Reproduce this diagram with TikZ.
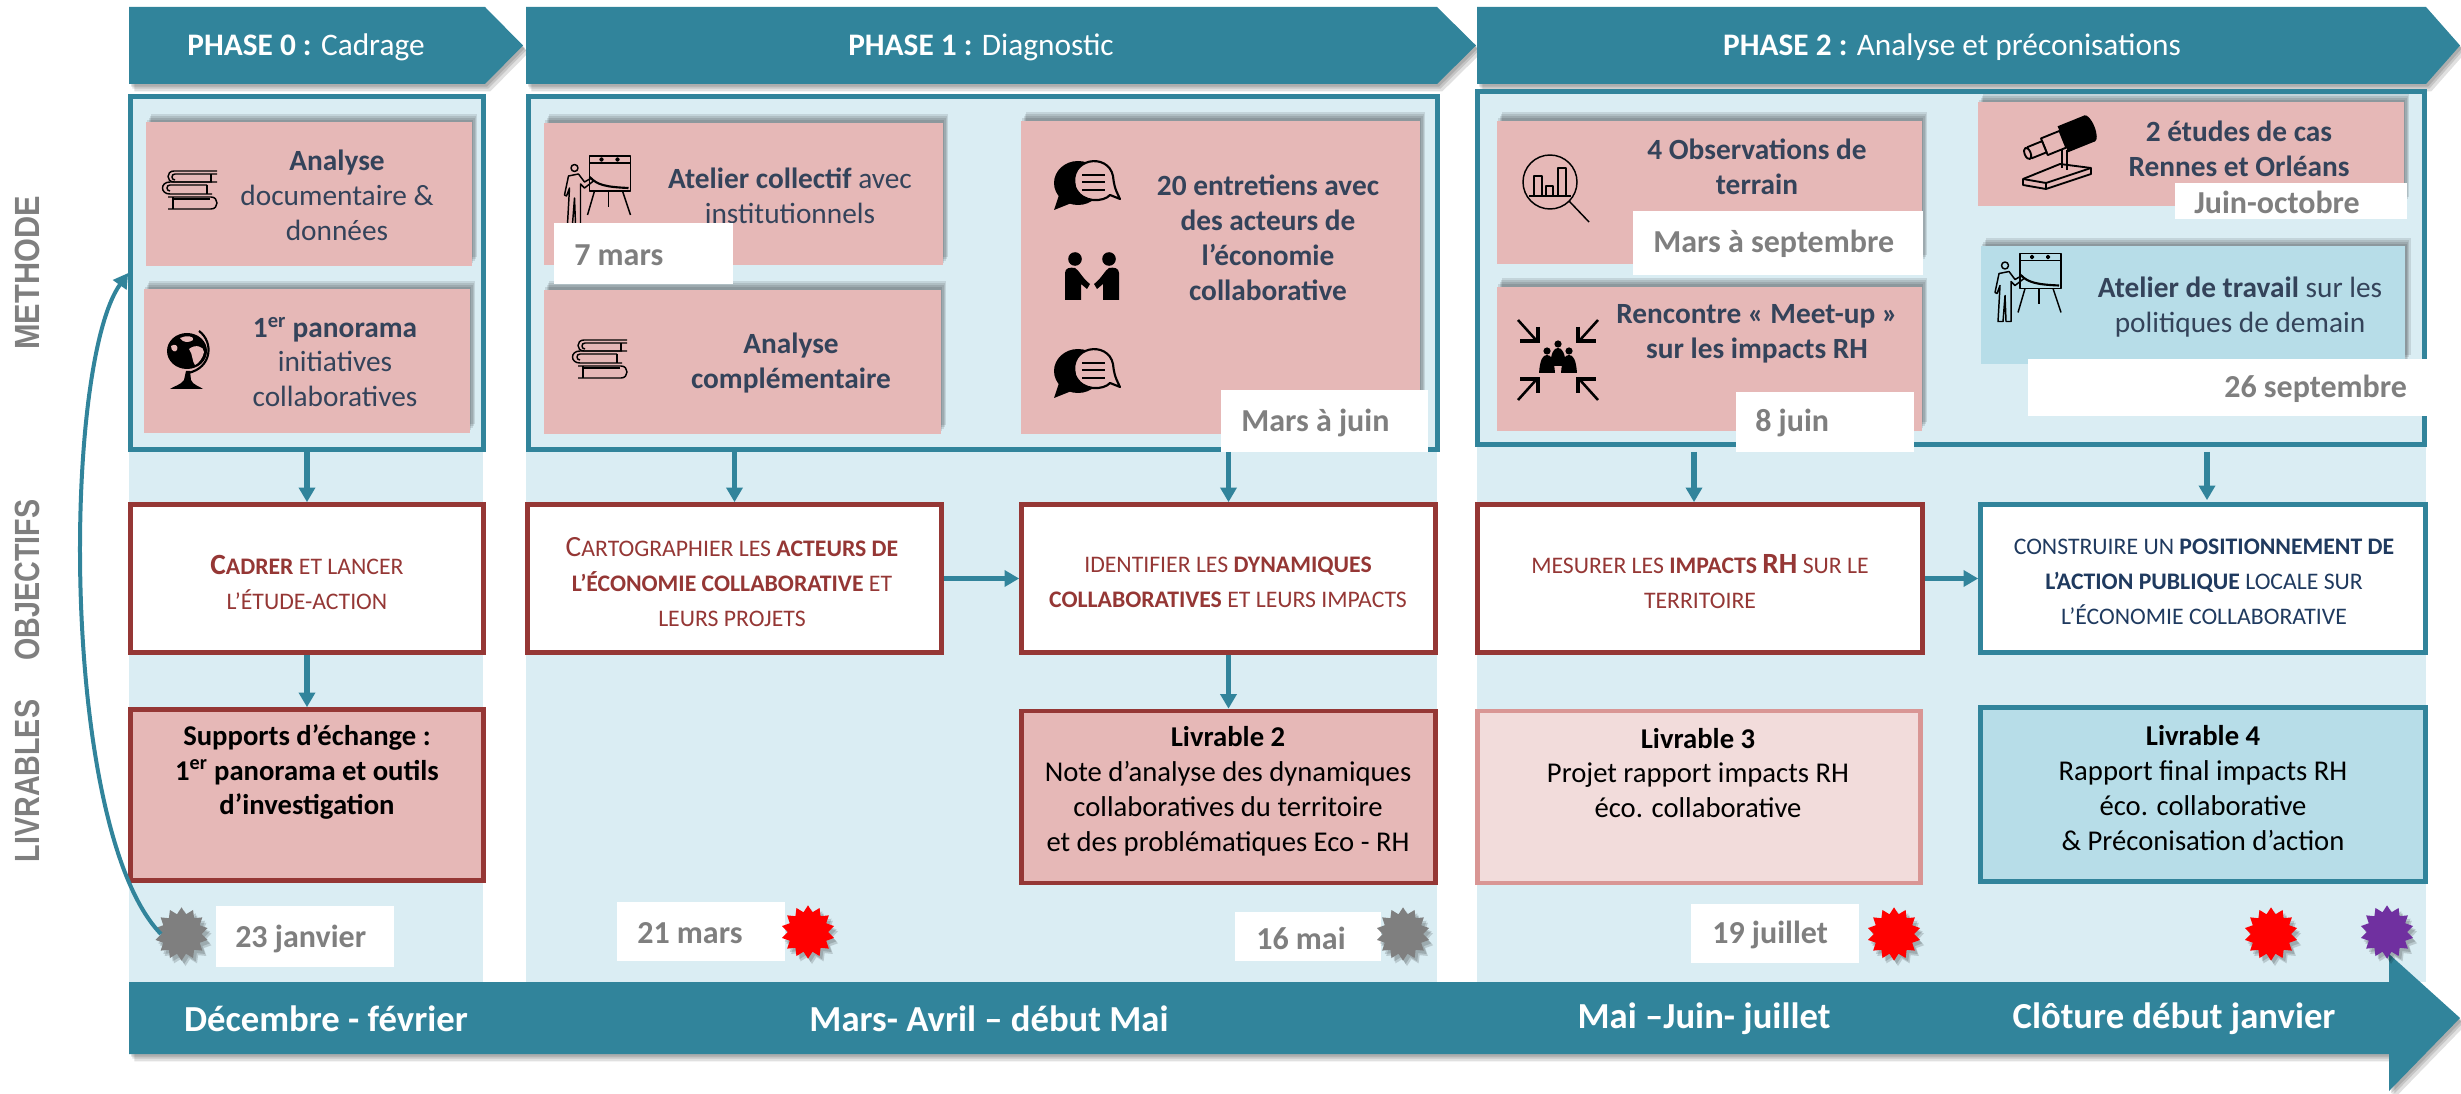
\documentclass[tikz,border=0pt]{standalone}
\usepackage{fontspec}
\usepackage{graphicx}
\setmainfont{Carlito}
\newfontfamily\sidefont{Liberation Sans}
\usetikzlibrary{shapes.geometric, arrows.meta, positioning, calc, shadows}

\definecolor{teal}{HTML}{31849B}
\definecolor{colbg}{HTML}{DAEDF3}
\definecolor{rouge}{HTML}{953735}
\definecolor{rose}{HTML}{E6B8B7}
\definecolor{paleblue}{HTML}{B7DDE8}
\definecolor{palerose}{HTML}{F2DCDB}
\definecolor{midrose}{HTML}{D99694}
\definecolor{slate}{HTML}{34435A}
\definecolor{navy}{HTML}{1F3A5F}
\definecolor{greytxt}{HTML}{7F7F7F}
\definecolor{violet}{HTML}{7030A0}

% initial capital in the small capital lines
\newcommand{\initcap}[1]{{\fontsize{22}{26.2}\selectfont #1}}

\tikzset{
	wh/.style 2 args={minimum width={#1*0.75pt}, minimum height={#2*0.75pt}, inner sep=0pt},
	softup/.style={general shadow={fill=black,opacity=.1,shadow xshift=1pt,shadow yshift=2pt},general shadow={fill=black,opacity=.1,shadow xshift=2pt,shadow yshift=3.5pt},general shadow={fill=black,opacity=.1,shadow xshift=3pt,shadow yshift=5pt},general shadow={fill=black,opacity=.1,shadow xshift=4pt,shadow yshift=6.5pt}},
	softdown/.style={general shadow={fill=black,opacity=.12,shadow xshift=1.5pt,shadow yshift=-2pt},general shadow={fill=black,opacity=.12,shadow xshift=2.5pt,shadow yshift=-3.5pt},general shadow={fill=black,opacity=.12,shadow xshift=4pt,shadow yshift=-5.5pt}},
	phasebar/.style={fill=teal, softdown},
	framebox/.style={draw=teal, line width=3.5pt, fill=colbg},
	pinkbox/.style={fill=rose, softup},
	bluebox/.style={fill=paleblue, softup},
	datebox/.style={fill=white},
	objbox/.style={draw=rouge, line width=3.5pt, fill=white},
	objteal/.style={draw=teal, line width=3.5pt, fill=white},
	livbox/.style={draw=rouge, line width=3.5pt, fill=rose},
	livpale/.style={draw=midrose, line width=3.5pt, fill=palerose},
	livteal/.style={draw=teal, line width=3.5pt, fill=paleblue},
	boxtxt/.style={text=slate, align=center, inner sep=0pt, font=\fontsize{22}{26.2}\selectfont},
	objtxt/.style={text=rouge, align=center, inner sep=0pt, font=\fontsize{17.8}{26.2}\selectfont},
	livtxt/.style={text=black, align=center, inner sep=0pt, font=\fontsize{21.5}{26.2}\selectfont},
	datetxt/.style={text=greytxt, anchor=west, inner sep=0pt, font=\fontsize{24}{28}\selectfont\bfseries},
	phasetxt/.style={text=white, inner sep=0pt, font=\fontsize{23.5}{28}\selectfont},
	timetxt/.style={text=white, inner sep=0pt, font=\fontsize{27.5}{32}\selectfont\bfseries},
	sidetxt/.style={text=greytxt, rotate=90, inner sep=0pt, font=\fontsize{21.5}{28}\selectfont\sidefont\bfseries},
	jalon/.style={star, star points=14, star point ratio=1.32, minimum size=40pt, inner sep=0pt, fill=#1, general shadow={fill=black,opacity=.15,shadow xshift=2pt,shadow yshift=-2.5pt},general shadow={fill=black,opacity=.15,shadow xshift=3pt,shadow yshift=-4pt}},
	link/.style={draw=teal, line width=4pt, -{Triangle[width=12pt,length=11pt]}},
	icon/.style={draw=black, line width=1.1pt, line join=round},
	books/.pic={
		\draw[icon] (28,-19) -- (-15,-19) .. controls (-23,-19) and (-23,-8) .. (-15,-8) -- (28,-8);
		\draw[icon] (28,-16) -- (-14,-16) .. controls (-18,-16) and (-18,-10) .. (-14,-10);
		\draw[icon] (22,-8) -- (22,-16);
		\draw[icon] (23,-8) -- (-19,-8) .. controls (-29,-8) and (-29,4) .. (-19,4) -- (23,4);
		\draw[icon] (18,-5) -- (-19,-5) .. controls (-23,-5) and (-23,1) .. (-19,1);
		\draw[icon] (18,4) -- (18,-5);
		\draw[icon] (-21,7) -- (22,7) .. controls (30,7) and (30,19) .. (22,19) -- (-21,19);
		\draw[icon] (-16,7) -- (-16,19);
		\draw[icon] (-16,9) -- (21,9);
	},
	globe/.pic={
		\fill[black] (-2,-9) ellipse (20 and 18);
		\fill[rose] (-9,-22) .. controls (-3,-25) and (6,-24) .. (4,-20) .. controls (0,-17) and (-6,-17) .. cycle;
		\fill[rose] (0,-11) .. controls (6,-16) and (15,-14) .. (15,-8) .. controls (14,-2) and (9,4) .. (6,5) .. controls (3,2) and (4,-6) .. cycle;
		\fill[rose] (-18,-14) .. controls (-14,-17) and (-10,-14) .. (-12,-10) .. controls (-14,-7) and (-18,-9) .. cycle;
		\draw[black, line width=1.6pt] (10,-29) .. controls (25,-18) and (23,8) .. (-1,13);
		\fill[black] (-3,11) -- (1,11) -- (2,20) .. controls (4,25) and (10,26) .. (14,29) -- (-19,29) .. controls (-15,26) and (-8,25) .. (-5,20) -- cycle;
	},
	presenter/.pic={
		\draw[icon] (-8,-34) rectangle (33,1);
		\draw[icon] (-8,-27) -- (33,-27);
		\draw[icon] (4,-30.5) circle (1.5);
		\draw[icon] (20,-30.5) circle (1.5);
		\draw[icon, line width=1.6pt] (-8,-13) .. controls (0,-5) and (8,-3) .. (31,-2);
		\draw[icon] (-3,1) -- (-10,25);
		\draw[icon] (25,1) -- (33,25);
		\draw[icon] (11,1) -- (11,17);
		\draw[icon] (-23,-22) circle (3.5);
		\draw[icon] (-19,-16) -- (-13,-8) -- (-6,-12) -- (-4,-9) -- (-13,-2) -- (-17,-6) -- (-17,34) -- (-22,34) -- (-23,8) -- (-25,34) -- (-30,34) -- (-28,-2) -- (-31,6) -- (-33,5) -- (-29,-14) -- cycle;
	},
	chat/.pic={
		\fill[black] (-10,-1) ellipse (24 and 22);
		\fill[black] (-28,8) -- (-34,26) -- (-14,18) -- cycle;
		\filldraw[icon, fill=rose, line width=1.6pt] (32,15) -- (22,11) .. controls (16,18) and (-6,20) .. (-13,3) .. controls (-20,-26) and (20,-32) .. (25,-8) .. controls (26,0) and (26,3) .. cycle;
		\foreach \ly in {-9,-2,6} \draw[black, line width=2pt] (-6,\ly) -- (17,\ly);
	},
	handshake/.pic={
		\foreach \sg in {-1,1} {
			\fill[black] (\sg*17,-17) circle (6.8);
			\fill[black] (\sg*27,24) -- (\sg*27,-3) .. controls (\sg*27,-8) and (\sg*22,-9) .. (\sg*17,-8) .. controls (\sg*13,-6) and (\sg*10,2) .. (\sg*2,8) -- (\sg*5,13) -- (\sg*11,8) -- (\sg*11,24) -- cycle;
		}
	},
	loupe/.pic={
		\draw[icon] (0,0) circle (27);
		\draw[icon] (-21,14) -- (21,14);
		\draw[icon] (-16,14) -- (-16,-6) -- (-8,-6) -- (-8,14);
		\draw[icon] (-4,14) -- (-4,4) -- (3,4) -- (3,14);
		\draw[icon] (8,14) -- (8,-14) -- (16,-14) -- (16,14);
		\draw[icon] (19,19) -- (39,40);
	},
	meetup/.pic={
		\foreach \sx/\sy in {-1/-1,1/-1,-1/1,1/1} {
			\draw[black, line width=1.9pt] (\sx*40,\sy*40) -- (\sx*22,\sy*20);
			\draw[black, line width=2.4pt] (\sx*20,\sy*33) -- (\sx*20,\sy*19) -- (\sx*38,\sy*19);
		}
		\foreach \px/\py in {0/-16,-11/-9,11/-9} {
			\fill[black] (\px,\py) circle (3.6);
			\fill[black] (\px-8,\py+22) .. controls (\px-7,\py+8) and (\px-4,\py+4) .. (\px,\py+4) .. controls (\px+4,\py+4) and (\px+7,\py+8) .. (\px+8,\py+22) -- cycle;
		}
	},
	telescope/.pic={
		\filldraw[icon, fill=rose, line width=1.4pt] (-34,24) -- (3,9) -- (34,13) -- (34,19) -- (-11,34) -- (-34,30) -- cycle;
		\draw[icon, line width=1.4pt] (-34,24) -- (-11,28) -- (34,13);
		\draw[icon, line width=1.4pt] (-11,28) -- (-11,34);
		\draw[icon, line width=1.4pt] (5,-5) -- (5,13);
		\draw[icon, line width=1.4pt] (10,-5) -- (10,15);
		\begin{scope}[shift={(4,-15)}, rotate=22]
			\fill[black] (2,-14) rectangle (31,14);
			\fill[black] (31,0) ellipse (5 and 14);
			\filldraw[icon, fill=rose, line width=1.4pt] (-18,-9) rectangle (2,9);
			\filldraw[icon, fill=rose, line width=1.4pt] (-34,-6) rectangle (-18,6);
			\filldraw[icon, fill=rose, line width=1.4pt] (-36,0) ellipse (3 and 6);
		\end{scope}
	}
}

\begin{document}
\begin{tikzpicture}[x=0.75pt, y=-0.75pt]
	\useasboundingbox (0,0) rectangle (2461,1094);
	% Columns
	\fill[colbg] (129,94) rectangle (483,982);
	\fill[colbg] (526,94) rectangle (1437,982);
	\fill[colbg] (1477,90) rectangle (2426,982);
	% Phases
	\fill[phasebar] (129,7) -- (485,7) -- (523,45.5) -- (485,84) -- (129,84) -- cycle;
	\fill[phasebar] (526,7) -- (1437,7) -- (1476,45.5) -- (1437,84) -- (526,84) -- cycle;
	\fill[phasebar] (1477,7) -- (2426,7) -- (2460,45.5) -- (2426,84) -- (1477,84) -- cycle;
	\node[phasetxt] (ph0) at (306,47) {\textbf{PHASE 0 :} Cadrage};
	\node[phasetxt] (ph1) at (981,47) {\textbf{PHASE 1 :} Diagnostic};
	\node[phasetxt] (ph2) at (1952,47) {\textbf{PHASE 2 :} Analyse et préconisations};
	% Side labels
	\node[sidetxt] (smeth) at (27,273) {\scalebox{1}[1.14]{\fontsize{23}{28}\selectfont METHODE}};
	\node[sidetxt] (sobj) at (27,580) {\scalebox{1}[1.22]{OBJECTIFS}};
	\node[sidetxt] (sliv) at (27,781) {\scalebox{1}[1.22]{LIVRABLES}};
	% Frames
	\node[framebox, wh={353}{353}] (frame0) at (307,273) {};
	\node[framebox, wh={909}{353}] (frame1) at (983,273) {};
	\node[framebox, wh={947}{353}] (frame2) at (1951,268) {};
	% Method boxes
	\node[pinkbox, wh={326}{143.5}] (ana) at (309,194) {};
	\node[pinkbox, wh={326}{143.5}] (pano) at (307,361) {};
	\node[pinkbox, wh={399}{142.5}] (atel) at (743.5,194) {};
	\node[pinkbox, wh={397}{144}] (comp) at (742.5,362) {};
	\node[pinkbox, wh={399}{313}] (entr) at (1220.5,277.5) {};
	\node[pinkbox, wh={425}{143}] (obs) at (1709.5,192.5) {};
	\node[pinkbox, wh={425}{144}] (renc) at (1709.5,359) {};
	\node[pinkbox, wh={426}{103.5}] (etud) at (2191,154) {};
	\node[bluebox, wh={424.5}{117.5}] (trav) at (2193,305) {};
	\node[boxtxt] (tana) at (337,195) {\textbf{Analyse}\\documentaire \&\\données};
	\node[boxtxt] (tpano) at (335,362) {\textbf{1\textsuperscript{er} panorama}\\initiatives\\collaboratives};
	\node[boxtxt] (tatel) at (790,196) {\textbf{Atelier collectif} avec\\institutionnels};
	\node[boxtxt] (tcomp) at (791,363) {\textbf{Analyse}\\\textbf{complémentaire}};
	\node[boxtxt] (tentr) at (1268,238) {\textbf{20 entretiens avec}\\\textbf{des acteurs de}\\\textbf{l’économie}\\\textbf{collaborative}};
	\node[boxtxt] (tobs) at (1757,167) {\textbf{4 Observations de}\\\textbf{terrain}};
	\node[boxtxt] (trenc) at (1757,334) {\textbf{Rencontre « Meet-up »}\\\textbf{sur les impacts RH}};
	\node[boxtxt] (tetud) at (2239,149) {\textbf{2 études de cas}\\\textbf{Rennes et Orléans}};
	\node[boxtxt] (ttrav) at (2240,307) {\textbf{Atelier de travail} sur les\\politiques de demain};
	% Icons
	\pic at (189,190) {books};
	\pic at (189,360) {globe};
	\pic at (597.5,190) {presenter};
	\pic at (599,359) {books};
	\pic at (1088,184) {chat};
	\pic at (1092,276) {handshake};
	\pic at (1088,372) {chat};
	\pic at (1550,182) {loupe};
	\pic at (1558,360) {meetup};
	\pic at (2057,155) {telescope};
	\pic at (2028,287.5) {presenter};
	% Dates
	\node[datebox, wh={179}{61}] (d7) at (643.5,253.5) {};
	\node[datebox, wh={207}{62}] (dmj) at (1324.5,421) {};
	\node[datebox, wh={290}{64}] (dms) at (1778,243) {};
	\node[datebox, wh={177.5}{60}] (d8) at (1825,422) {};
	\node[datebox, wh={232}{35.5}] (djo) at (2291,201) {};
	\node[datebox, wh={399}{57}] (d26) at (2227,387.5) {};
	\node[datebox, wh={178}{61}] (d23) at (305,936.5) {};
	\node[datebox, wh={168}{59}] (d21) at (701,931.5) {};
	\node[datebox, wh={146}{49}] (d16) at (1308,936.5) {};
	\node[datebox, wh={168}{59}] (d19) at (1775,933.5) {};
	\node[datetxt] (t7) at (574,255) {7 mars};
	\node[datetxt] (tmj) at (1241,423) {Mars à juin};
	\node[datetxt] (tms) at (1653,244) {Mars à septembre};
	\node[datetxt] (t8) at (1755,423) {8 juin};
	\node[datetxt] (tjo) at (2194,202) {Juin-octobre};
	\node[datetxt] (t26) at (2224,389) {26 septembre};
	\node[datetxt] (t23) at (235,939) {23 janvier};
	\node[datetxt] (t21) at (637,933) {21 mars};
	\node[datetxt] (t16) at (1256,938) {16 mai};
	\node[datetxt] (t19) at (1712,935) {19 juillet};
	% Objectives
	\node[objbox, wh={353}{148}] (obj0) at (307,578.5) {};
	\node[objbox, wh={414}{148}] (obj1) at (734.5,578.5) {};
	\node[objbox, wh={414}{148}] (obj2) at (1228.5,578.5) {};
	\node[objbox, wh={445}{148}] (obj3) at (1700,578.5) {};
	\node[objteal, wh={445}{148}] (obj4) at (2203,578.5) {};
	\node[objtxt] (tobj0) at (307,582) {\textbf{\initcap{C}ADRER} ET LANCER\\L’ÉTUDE-ACTION};
	\node[objtxt] (tobj1) at (732,582) {\initcap{C}ARTOGRAPHIER LES \textbf{ACTEURS DE}\\\textbf{L’ÉCONOMIE COLLABORATIVE} ET\\LEURS PROJETS};
	\node[objtxt] (tobj2) at (1228,582) {IDENTIFIER LES \textbf{DYNAMIQUES}\\\textbf{COLLABORATIVES} ET LEURS IMPACTS};
	\node[objtxt] (tobj3) at (1700,582) {MESURER LES \textbf{IMPACTS \initcap{RH}} SUR LE\\TERRITOIRE};
	\node[objtxt, text=navy] (tobj4) at (2204,582) {CONSTRUIRE UN \textbf{POSITIONNEMENT DE}\\\textbf{L’ACTION PUBLIQUE} LOCALE SUR\\L’ÉCONOMIE COLLABORATIVE};
	% Deliverables
	\node[livbox, wh={353}{171}] (liv0) at (307,795) {};
	\node[livbox, wh={414}{172}] (liv2) at (1228.5,797) {};
	\node[livpale, wh={443}{172}] (liv3) at (1699,797) {};
	\node[livteal, wh={445}{174}] (liv4) at (2203,794.5) {};
	\node[livtxt] (tliv0) at (307,772) {\textbf{Supports d’échange :}\\\textbf{1\textsuperscript{er} panorama et outils}\\\textbf{d’investigation}};
	\node[livtxt] (tliv2) at (1228,791) {\textbf{Livrable 2}\\Note d’analyse des dynamiques\\collaboratives du territoire\\et des problématiques Eco - RH};
	\node[livtxt] (tliv3) at (1698,773) {\textbf{Livrable 3}\\Projet rapport impacts RH\\éco. collaborative};
	\node[livtxt] (tliv4) at (2203,788) {\textbf{Livrable 4}\\Rapport final impacts RH\\éco. collaborative\\\& Préconisation d’action};
	% Links
	\draw[link] (frame0.south) -- (obj0.north);
	\draw[link] (frame1.south -| obj1.north) -- (obj1.north);
	\draw[link] (frame1.south -| obj2.north) -- (obj2.north);
	\draw[link] ($(frame2.south -| obj3.north)+(-6,5)$) -- ($(obj3.north)+(-6,0)$);
	\draw[link] ($(frame2.south -| obj4.north)+(4,5)$) -- ($(obj4.north)+(4,-2)$);
	\draw[link] (obj1.east) -- (obj2.west);
	\draw[link] (obj3.east) -- (obj4.west);
	\draw[link] (obj0.south) -- (liv0.north);
	\draw[link] (obj2.south) -- (liv2.north);
	% Timeline
	\fill[phasebar] (129,982) -- (2389,982) -- (2389,954) -- (2460,1018) -- (2389,1091) -- (2389,1054) -- (129,1054) -- cycle;
	\node[timetxt] (tdec) at (326,1019) {Décembre - février};
	\node[timetxt] (tmar) at (989,1019) {Mars- Avril – début Mai};
	\node[timetxt] (tmai) at (1704,1019) {Mai –Juin- juillet};
	\node[timetxt] (tclo) at (2174,1019) {Clôture début janvier};
	% Milestones
	\node[jalon=greytxt] (star0) at (181.5,934) {};
	\node[jalon=red] (star1) at (808,932) {};
	\node[jalon=greytxt] (star2) at (1403,934) {};
	\node[jalon=red] (star3) at (1894,934) {};
	\node[jalon=red] (star4) at (2271,934) {};
	\node[jalon=violet] (star5) at (2387,932) {};
	\draw[draw=teal, line width=3pt, -{Triangle[width=12pt,length=11pt]}] (star0.west) .. controls (60,830) and (62,366) .. (frame0.west);
\end{tikzpicture}
\end{document}
